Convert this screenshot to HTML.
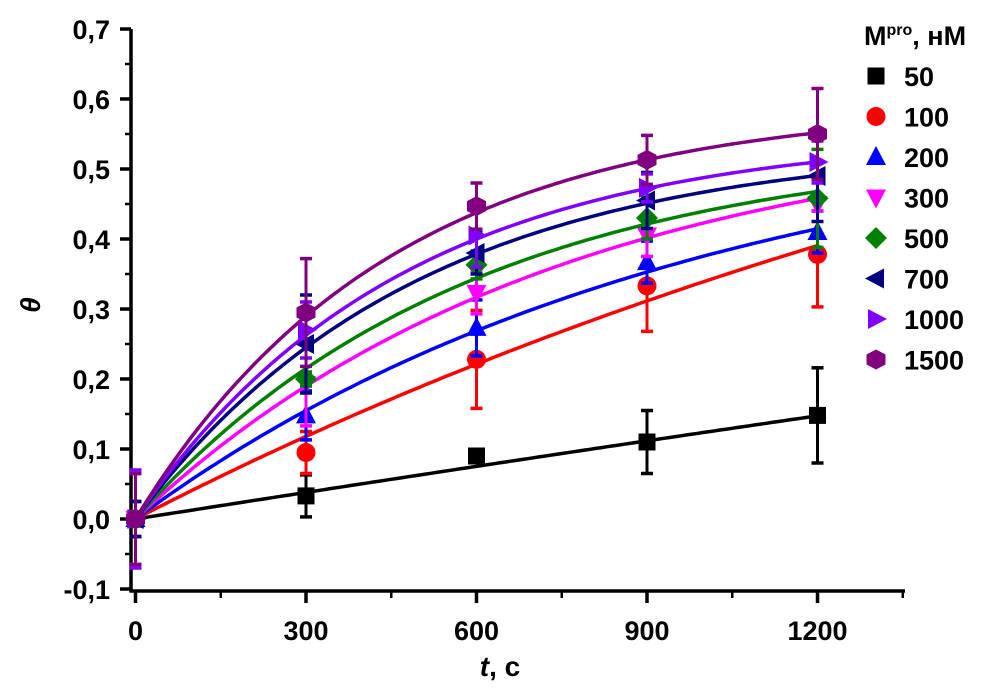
<!DOCTYPE html>
<html><head><meta charset="utf-8"><style>
body{margin:0;background:#fff;width:992px;height:689px;overflow:hidden}
svg text{font-family:"Liberation Sans",Arial,sans-serif;font-weight:bold}
</style></head><body>
<svg id="chart" width="992" height="689">
<g id="axes"></g><g id="series"></g><g id="legend"></g>
</svg>
<script>
const xTicks=[0,300,600,900,1200];
const yTicks=[-0.1,0,0.1,0.2,0.3,0.4,0.5,0.6,0.7];
const yLabels=["-0,1","0,0","0,1","0,2","0,3","0,4","0,5","0,6","0,7"];
const times=[0,300,600,900,1200];
const names=["50","100","200","300","500","700","1000","1500"];
const colors=["#000000","#ff0000","#0000ff","#ff00ff","#008000","#000080","#8000ff","#800080"];
const shapes=["square","circle","up","down","diamond","left","right","hex"];
const v50=[0,0.033,0.09,0.11,0.148];
const v100=[0,0.095,0.228,0.333,0.378];
const v200=[0,0.148,0.273,0.367,0.41];
const v300=[0,0.193,0.323,0.405,0.45];
const v500=[0,0.2,0.363,0.43,0.458];
const v700=[0,0.25,0.38,0.455,0.49];
const v1000=[0,0.27,0.405,0.473,0.51];
const v1500=[0,0.295,0.447,0.513,0.55];
const e50=[0.025,0.03,0.008,0.045,0.068];
const e100=[0.065,0.03,0.07,0.065,0.075];
const e200=[0.005,0.035,0.04,0.03,0.03];
const e300=[0.065,0.06,0.03,0.03,0.01];
const e500=[0.01,0.01,0.02,0.03,0.07];
const e700=[0.025,0.07,0.03,0.04,0.065];
const e1000=[0.07,0.04,0.045,0.02,0.03];
const e1500=[0.065,0.077,0.033,0.035,0.065];
const fitA=[1.9,0.944,0.587,0.572,0.5375,0.538,0.552,0.592];
const fitK=[0.0000673,0.000445,0.001021,0.001345,0.001703,0.002025,0.00215,0.00224];
const vals=[v50,v100,v200,v300,v500,v700,v1000,v1500];
const errs=[e50,e100,e200,e300,e500,e700,e1000,e1500];

const NS="http://www.w3.org/2000/svg";
const X=t=>135.5+t*170.5/300;
const Y=v=>519-v*700;
function mk(tag,at,parent){const e=document.createElementNS(NS,tag);for(const k in at)e.setAttribute(k,at[k]);parent.appendChild(e);return e;}
const axes=document.getElementById('axes');
let yl=mk('line',{x1:131,y1:Y(0.7),x2:131,y2:592,stroke:'#000','stroke-width':3.5},axes);


let xl=mk('line',{x1:129.5,y1:591,x2:905,y2:591,stroke:'#000','stroke-width':3.5},axes);


yTicks.forEach((v,i)=>{
  mk('line',{x1:120,y1:Y(v),x2:131,y2:Y(v),stroke:'#000','stroke-width':3.5},axes);
  if(i<yTicks.length-1) mk('line',{x1:125,y1:Y(v+0.05),x2:131,y2:Y(v+0.05),stroke:'#000','stroke-width':2.5},axes);
  const t=mk('text',{x:110,y:Y(v)+10,'text-anchor':'end','font-size':27},axes);t.textContent=yLabels[i];
  
  
});
xTicks.forEach(v=>{
  mk('line',{x1:X(v),y1:591,x2:X(v),y2:603,stroke:'#000','stroke-width':3.5},axes);
  mk('line',{x1:X(v+150),y1:591,x2:X(v+150),y2:598,stroke:'#000','stroke-width':2.5},axes);
  const t=mk('text',{x:X(v),y:640,'text-anchor':'middle','font-size':27},axes);t.textContent=v;
  
  
});
let xt=mk('text',{x:500,y:676,'text-anchor':'middle','font-size':28},axes);
xt.innerHTML='<tspan font-style="italic">t</tspan>, с';


let ytt=mk('text',{x:40,y:305,'text-anchor':'middle','font-size':28,'font-style':'italic','font-weight':'normal',transform:'rotate(-90 40 305)'},axes);
ytt.textContent='θ';



function marker(shape,cx,cy,c,p){
  let pts;
  if(shape==='square') return mk('rect',{x:cx-8.5,y:cy-8.5,width:17,height:17,fill:c},p);
  if(shape==='circle') return mk('circle',{cx,cy,r:9.5,fill:c},p);
  if(shape==='up') pts=[[0,-11],[10,8],[-10,8]];
  if(shape==='down') pts=[[0,11],[10,-8],[-10,-8]];
  if(shape==='left') pts=[[-11,0],[8,-10],[8,10]];
  if(shape==='right') pts=[[11,0],[-8,-10],[-8,10]];
  if(shape==='diamond') pts=[[0,-11],[11,0],[0,11],[-11,0]];
  if(shape==='hex') pts=[[0,-10],[9.5,-5],[9.5,5],[0,10],[-9.5,5],[-9.5,-5]];
  return mk('polygon',{points:pts.map(q=>(cx+q[0])+','+(cy+q[1])).join(' '),fill:c},p);
}
const ser=document.getElementById('series');
names.forEach((n,i)=>{
  const g=mk('g',{},ser);
  
  
  let d='';
  for(let t=0;t<=1200;t+=10){const v=fitA[i]*(1-Math.exp(-fitK[i]*t));d+=(t?'L':'M')+X(t).toFixed(1)+','+Y(v).toFixed(1);}
  const fl=mk('path',{d,fill:'none',stroke:colors[i],'stroke-width':3.5},g);
  
  
  times.forEach((t,j)=>{
    const x=X(t),v=vals[i][j],e=errs[i][j];
    mk('line',{x1:x,y1:Y(v-e),x2:x,y2:Y(v+e),stroke:colors[i],'stroke-width':3},g);
    mk('line',{x1:x-6,y1:Y(v-e),x2:x+6,y2:Y(v-e),stroke:colors[i],'stroke-width':3.5},g);
    mk('line',{x1:x-6,y1:Y(v+e),x2:x+6,y2:Y(v+e),stroke:colors[i],'stroke-width':3.5},g);
    const m=marker(shapes[i],x,Y(v),colors[i],g);
    
    
  });
});
const lg=document.getElementById('legend');
let lt=mk('text',{x:864,y:45,'font-size':27},lg);
lt.innerHTML='M<tspan dy="-10" font-size="16">pro</tspan><tspan dy="10">, нМ</tspan>';


names.forEach((n,i)=>{
  const y=76+i*40.5;
  const g=mk('g',{},lg);
  
  
  marker(shapes[i],876,y,colors[i],g);
  const t=mk('text',{x:904,y:y+10,'font-size':27},g);t.textContent=n;
});
</script>
</body></html>
